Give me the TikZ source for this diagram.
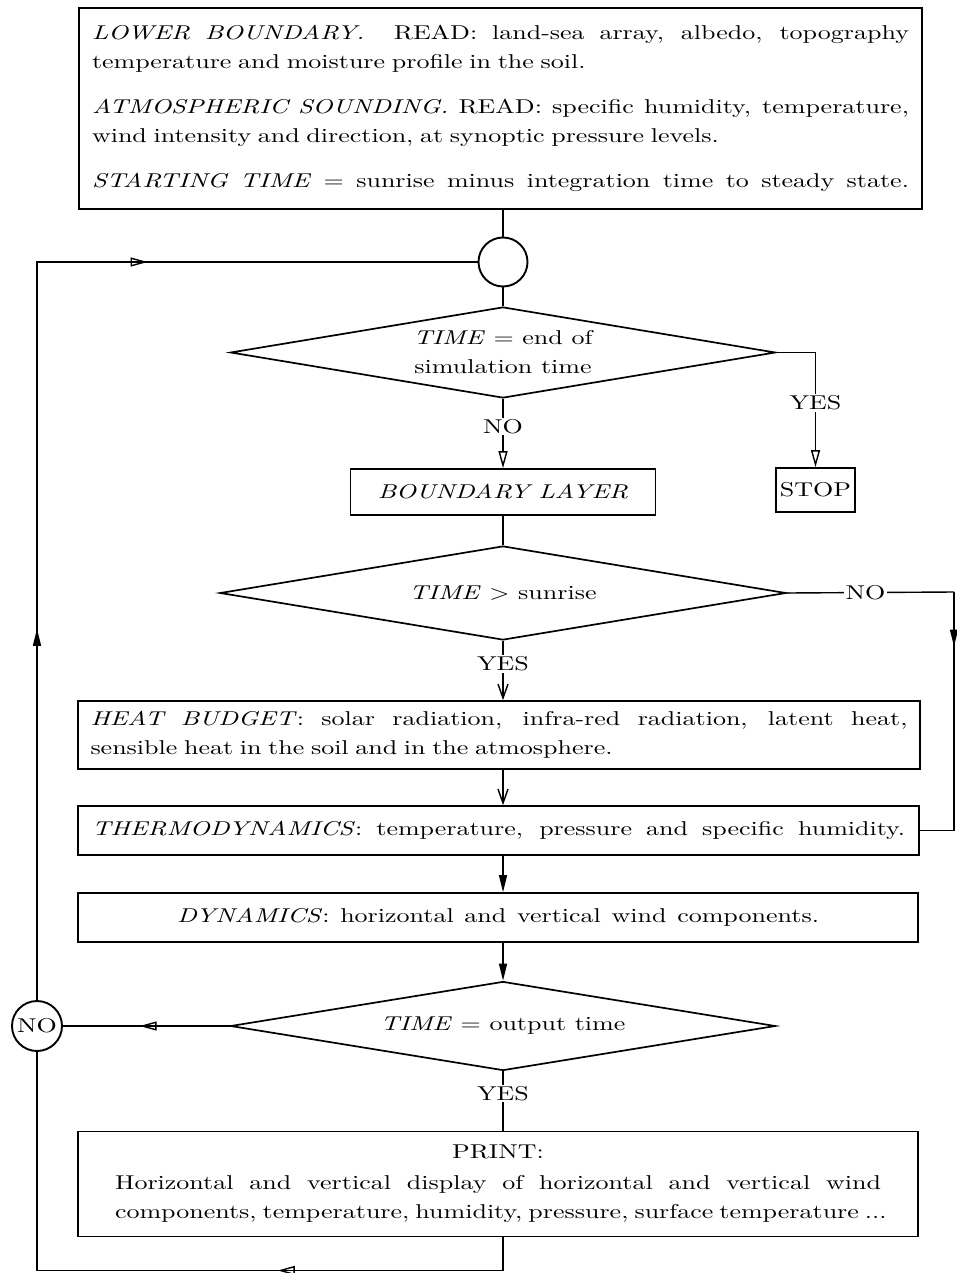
\documentclass[tikz,border=0pt]{standalone}
\usepackage{fontspec}
\setmainfont{lmroman10-regular.otf}[FakeStretch=1.3, ItalicFont=lmroman10-italic.otf]
\usetikzlibrary{shapes.geometric,arrows.meta,decorations.markings}
\tikzset{
  otip/.tip={Triangle[open,length=17pt,width=9pt]},
  ftip/.tip={Triangle[length=17pt,width=8pt]},
  btip/.tip={Straight Barb[length=14pt,width=10pt]},
}
\newcommand\jline[2]{\makebox[#1][s]{\spaceskip=.3em plus 1fill\xspaceskip=.3em plus 1fill\relax #2}}
\begin{document}
\begin{tikzpicture}[x=1pt,y=-1pt,
  every node/.style={font=\fontsize{20}{29}\selectfont},
  box/.style={draw, line width=1.7pt, inner sep=0pt},
  dia/.style={draw, diamond, aspect=6, line width=1.7pt, inner sep=0pt, align=center},
  ring/.style={draw, circle, line width=1.9pt, inner sep=0pt},
  con/.style={line width=1.4pt},
  lab/.style={fill=white, inner sep=1.5pt},
  midarr/.style 2 args={postaction={decorate}, decoration={markings, mark=at position #1 with {\arrow{#2}}}},
]
\useasboundingbox (0,0) rectangle (956,1273);

% nodes
\node[box, text width=817pt, inner xsep=13pt, minimum height=201pt, align=left] (init) at (500.5,108.5) {%
\jline{817pt}{\textit{LOWER BOUNDARY.}\ \ READ: land-sea array, albedo, topography}\\
temperature and moisture profile in the soil.\\[16pt]
\jline{817pt}{\textit{ATMOSPHERIC SOUNDING.} READ: specific humidity, temperature,}\\
wind intensity and direction, at synoptic pressure levels.\\[16pt]
\jline{817pt}{\textit{STARTING TIME} = sunrise minus integration time to steady state.}};

\node[ring, minimum size=49pt] (c1) at (503,262) {};
\node[dia, minimum width=545pt, minimum height=91pt] (d1) at (503,352.5) {\textit{TIME} = end of\\simulation time};
\node[box, minimum width=79pt, minimum height=44pt] (stop) at (815.5,490) {STOP};
\node[box, minimum width=305pt, minimum height=46pt] (bl) at (503,492) {\textit{BOUNDARY LAYER}};
\node[dia, minimum width=566pt, minimum height=94pt] (d2) at (503,593) {\textit{TIME} > sunrise};
\node[box, text width=817pt, inner xsep=12.5pt, minimum height=68pt, align=left] (hb) at (499,735) {%
\jline{817pt}{\textit{HEAT BUDGET}: solar radiation, infra-red radiation, latent heat,}\\
sensible heat in the soil and in the atmosphere.};
\node[box, minimum width=841pt, minimum height=49pt] (th) at (498.5,830.5) {\jline{813pt}{\textit{THERMODYNAMICS}: temperature, pressure and specific humidity.}};
\node[box, minimum width=840pt, minimum height=49pt] (dyn) at (498,917.5) {\jline{642pt}{\textit{DYNAMICS}: horizontal and vertical wind components.}};
\node[dia, minimum width=545pt, minimum height=89pt] (d3) at (503,1026) {\textit{TIME} = output time};
\node[ring, minimum size=50pt] (nocirc) at (37,1026) {NO};
\node[box, minimum width=840pt, minimum height=105pt, align=center] (pr) at (498,1184) {PRINT:\\[2pt]
\jline{766pt}{Horizontal and vertical display of horizontal and vertical wind}\\
\jline{766pt}{components, temperature, humidity, pressure, surface temperature ...}};

% corner coordinates
\coordinate (lt) at (37,262);
\coordinate (lb) at (37,1270.5);
\coordinate (pb) at (503,1270.5);
\coordinate (r1) at (954,592);

% connectors
\draw[con] (init.south -| c1) -- (c1.north);
\draw[con] (c1.south) -- (d1.north);
\draw[con, -otip] (d1.south) -- node[lab,pos=0.4]{NO} (bl.north);
\draw[con, -otip] (d1.east) -| node[lab,pos=0.72]{YES} (stop.north);
\draw[con] (bl.south) -- (d2.north);
\draw[con] (d2.east) -- node[lab,pos=0.47]{NO} (r1);
\draw[con, midarr={0.2}{ftip}] (r1) -- (r1 |- th.east) -- (th.east);
\draw[con, -btip] (d2.south) -- node[lab,pos=0.39]{YES} (d2.south |- hb.north);
\draw[con, -btip] (hb.south -| d2.south) -- (th.north -| d2.south);
\draw[con, -ftip] (th.south -| d2.south) -- (dyn.north -| d2.south);
\draw[con, -ftip] (dyn.south -| d3.north) -- (d3.north);
\draw[con] (d3.south) -- node[lab,pos=0.37]{YES} (d3.south |- pr.north);
\draw[con, midarr={0.54}{otip}] (d3.west) -- (nocirc.east);
\draw[con, midarr={0.36}{otip}] (pr.south -| d3.south) -- (pb) -- (lb) -- (nocirc.south);
\draw[con, postaction={decorate}, decoration={markings,
   mark=at position 0.315 with {\arrow{ftip}},
   mark=at position 0.72 with {\arrow{otip}}}]
   (nocirc.north) -- (lt) -- (c1.west);
\end{tikzpicture}
\end{document}
